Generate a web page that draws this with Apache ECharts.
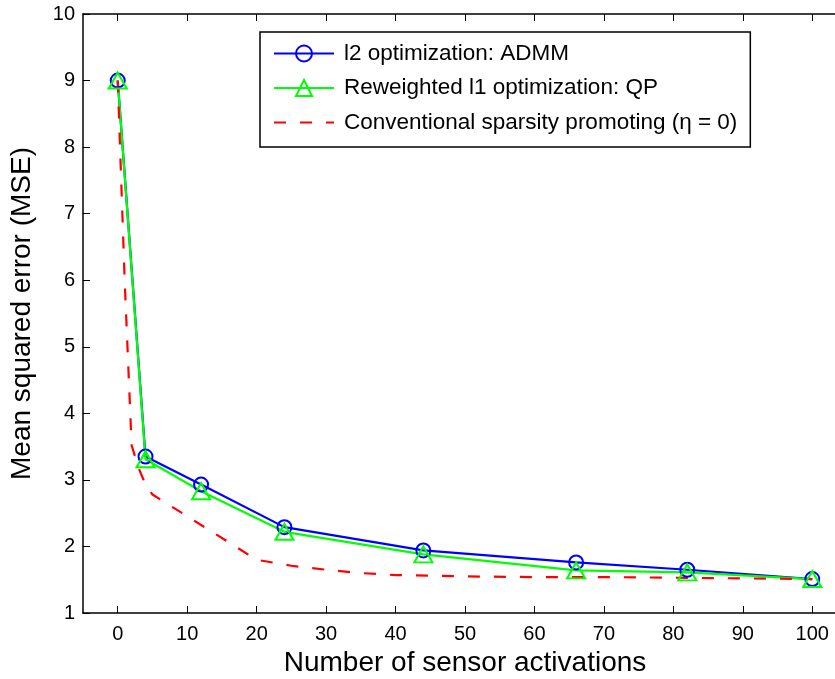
<!DOCTYPE html>
<html>
<head>
<meta charset="utf-8">
<script src="https://cdn.jsdelivr.net/npm/echarts@6/dist/echarts.min.js"></script>
<style>html,body{margin:0;padding:0;background:#fff;}#c{width:835px;height:679px;}</style>
</head>
<body>
<div id="c"></div>
<script>
const xTicks = [0, 10, 20, 30, 40, 50, 60, 70, 80, 90, 100];
const yTicks = [1, 2, 3, 4, 5, 6, 7, 8, 9, 10];

const admmX = [0, 4, 12, 24, 44, 66, 82, 100];
const admmY = [9.0, 3.35, 2.93, 2.29, 1.94, 1.76, 1.65, 1.51];

const qpX = [0, 4, 12, 24, 44, 66, 82, 100];
const qpY = [9.0, 3.31, 2.83, 2.22, 1.88, 1.64, 1.61, 1.51];

const convX = [0, 1, 2, 3, 4, 5, 20, 25, 30, 35, 40, 50, 60, 70, 80, 90, 100];
const convY = [9.0, 6.0, 3.52, 3.18, 2.93, 2.78, 1.8, 1.71, 1.65, 1.6, 1.57, 1.55, 1.54, 1.54, 1.53, 1.52, 1.51];

const names = ['l2 optimization: ADMM', 'Reweighted l1 optimization: QP', 'Conventional sparsity promoting (\u03b7 = 0)'];

const pair = (xs, ys) => xs.map((x, i) => [x, ys[i]]);
const FONT = '"Liberation Sans", Arial, Helvetica, sans-serif';

const chart = echarts.init(document.getElementById('c'), null, {renderer: 'canvas'});
chart.setOption({
  animation: false,
  backgroundColor: '#fff',
  textStyle: {fontFamily: FONT, color: '#000'},
  grid: {left: 83, top: 14, width: 764, height: 599, containLabel: false, outerBoundsMode: 'none'},
  legend: {
    orient: 'vertical',
    left: 260, top: 32,
    padding: [10, 13, 13, 13],
    itemWidth: 60, itemHeight: 20, itemGap: 11.5,
    backgroundColor: '#fff',
    borderColor: '#000', borderWidth: 1.5,
    textStyle: {fontFamily: FONT, fontSize: 22.5, color: '#000', padding: [0, 0, 0, 5]},
    data: [
      {name: names[0]},
      {name: names[1]},
      {name: names[2], itemStyle: {opacity: 0}}
    ]
  },
  xAxis: [{
    type: 'value', min: -5, max: 105, position: 'bottom',
    name: 'Number of sensor activations', nameLocation: 'middle', nameGap: 35,
    nameTextStyle: {fontFamily: FONT, fontSize: 28, color: '#000'},
    axisLine: {show: true, onZero: false, lineStyle: {color: '#000', width: 1.5}},
    axisTick: {show: true, inside: true, length: 7, customValues: xTicks, lineStyle: {color: '#000', width: 1}},
    axisLabel: {show: true, fontFamily: FONT, fontSize: 20, color: '#000', margin: 11, customValues: xTicks},
    splitLine: {show: false}
  }, {
    type: 'value', min: -5, max: 105, position: 'top',
    axisLine: {show: true, onZero: false, lineStyle: {color: '#000', width: 1.5}},
    axisTick: {show: true, inside: true, length: 7, customValues: xTicks, lineStyle: {color: '#000', width: 1}},
    axisLabel: {show: false},
    splitLine: {show: false}
  }],
  yAxis: [{
    type: 'value', min: 1, max: 10, interval: 1,
    name: 'Mean squared error (MSE)', nameLocation: 'middle', nameGap: 47,
    nameTextStyle: {fontFamily: FONT, fontSize: 28, color: '#000'},
    axisLine: {show: true, onZero: false, lineStyle: {color: '#000', width: 1.5}},
    axisTick: {show: true, inside: true, length: 7, customValues: yTicks, lineStyle: {color: '#000', width: 1}},
    axisLabel: {show: true, fontFamily: FONT, fontSize: 20, color: '#000', margin: 8, customValues: yTicks},
    splitLine: {show: false}
  }],
  series: [{
    name: names[0], type: 'line', data: pair(admmX, admmY),
    symbol: 'circle', symbolSize: 14,
    itemStyle: {color: 'rgba(0,0,0,0)', borderColor: '#0000ff', borderWidth: 2},
    lineStyle: {color: '#0000ff', width: 2.2},
    emphasis: {disabled: true}
  }, {
    name: names[1], type: 'line', data: pair(qpX, qpY),
    symbol: 'triangle', symbolSize: [18, 16],
    itemStyle: {color: 'rgba(0,0,0,0)', borderColor: '#00ff00', borderWidth: 2},
    lineStyle: {color: '#00ff00', width: 2.2},
    emphasis: {disabled: true}
  }, {
    name: names[2], type: 'line', data: pair(convX, convY),
    symbol: 'none', showSymbol: false,
    itemStyle: {color: '#ff0000'},
    lineStyle: {color: '#ff0000', width: 2.2, type: [12, 14]},
    emphasis: {disabled: true}
  }]
});
</script>
</body>
</html>
